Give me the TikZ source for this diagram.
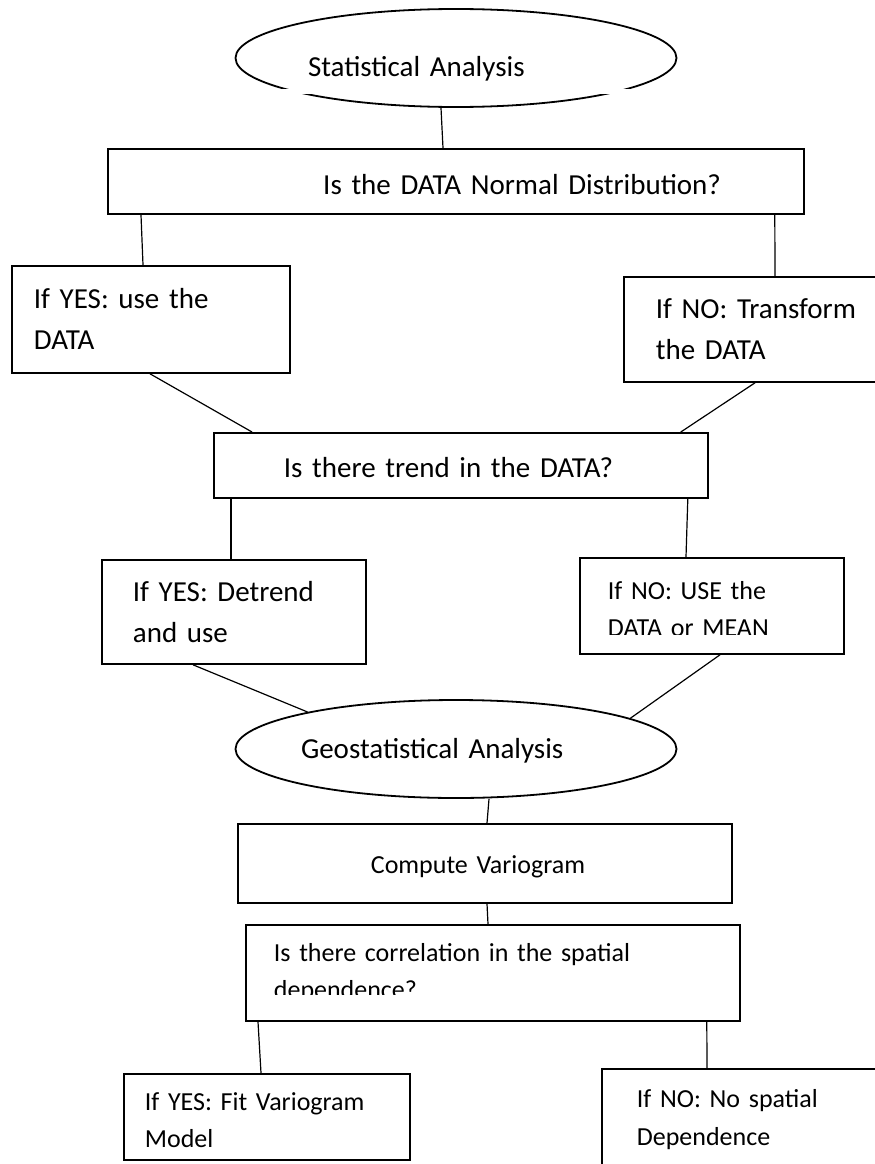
\documentclass[tikz,border=0pt]{standalone}
\usepackage{fontspec}
\setmainfont{Carlito}
\usetikzlibrary{shapes.geometric}

\begin{document}
\begin{tikzpicture}[x=1pt, y=-1pt, line join=miter,
    caja/.style={draw, rectangle, line width=1.8pt, anchor=north west, align=left},
    ovalo/.style={draw, ellipse, line width=1.8pt, minimum width=441pt, minimum height=98pt,
      inner sep=0pt, align=left},
    enlace/.style={line width=1.2pt},
    grande/.style={font=\fontsize{29pt}{41pt}\selectfont},
    chica/.style={font=\fontsize{26pt}{37.5pt}\selectfont}]
  \useasboundingbox (0,0) rectangle (875,1164);
  % el comienzo
  \node[ovalo, grande, text width=296pt, text height=40pt, text depth=4pt] (stat) at (456,58) {Statistical Analysis};
  \fill[white] (280,89) rectangle (640,93.5);
  \node[caja, grande, minimum height=65pt, align=right, inner xsep=83pt, text width=530pt, text height=27pt] (normal) at (107,148) {Is the DATA Normal Distribution?};
  % primera rama
  \node[caja, grande, minimum height=107pt, inner xsep=22pt, text width=234pt] (yes1) at (11,265) {If YES: use the\\DATA};
  \node[caja, grande, minimum height=105pt, inner xsep=32pt, text width=216pt] (no1) at (623,276) {If NO: Transform\\the DATA};
  \node[caja, grande, minimum height=65pt, inner xsep=70pt, text width=354pt, text height=24pt] (trend) at (213,432) {Is there trend in the DATA?};
  % segunda rama
  \node[caja, grande, minimum height=104pt, inner xsep=31pt, text width=202pt] (detrend) at (101,559) {If YES: Detrend\\and use};
  \node[caja, chica, minimum height=96pt, inner xsep=28pt, text width=208pt, text height=24pt] (nouse) at (579,557) {If NO: USE the\\DATA or MEAN};
  \fill[white] (600,634.5) rectangle (800,648);
  \node[ovalo, grande, text width=310pt, text height=22pt, text depth=4pt] (geo) at (456,749) {Geostatistical Analysis};
  % el variograma
  \node[caja, chica, minimum height=79pt, inner xsep=133pt, text width=228pt, text height=24pt] (compute) at (237,823) {Compute Variogram};
  \node[caja, chica, minimum height=96pt, inner xsep=28pt, text width=438pt] (corr) at (245,924) {Is there correlation in the spatial\\dependence?};
  \fill[white] (260,995) rectangle (700,1015);
  \node[caja, chica, minimum height=86pt, inner xsep=21pt, text width=244pt, text height=24pt] (fit) at (123,1073) {If YES: Fit Variogram\\Model};
  \node[caja, chica, minimum height=101.5pt, inner xsep=35pt, text width=230pt] (no2) at (601,1068) {If NO: No spatial\\Dependence};
  % las lineas
  \draw[enlace] ([xshift=-15pt]stat.south) -- ([xshift=336pt]normal.north west);
  \draw[enlace] ([xshift=34pt]normal.south west) -- ([xshift=132pt]yes1.north west);
  \draw[enlace] ([xshift=-30pt]normal.south east) -- ([xshift=152pt]no1.north west);
  \draw[enlace] ([xshift=139pt]yes1.south west) -- ([xshift=39pt]trend.north west);
  \draw[enlace] ([xshift=132pt]no1.south west) -- ([xshift=-28pt]trend.north east);
  \draw[enlace] ([xshift=18pt]trend.south west) -- ([xshift=130pt]detrend.north west);
  \draw[enlace] ([xshift=-21pt]trend.south east) -- ([xshift=107pt]nouse.north west);
  \draw[enlace] ([xshift=92pt]detrend.south west) -- (geo.166);
  \draw[enlace] ([xshift=141pt]nouse.south west) -- (geo.10);
  \draw[enlace] ([xshift=33pt]geo.south) -- ([xshift=250pt]compute.north west);
  \draw[enlace] ([xshift=250pt]compute.south west) -- ([xshift=243pt]corr.north west);
  \draw[enlace] ([xshift=13pt]corr.south west) -- ([xshift=138pt]fit.north west);
  \draw[enlace] ([xshift=-34pt]corr.south east) -- ([xshift=106pt]no2.north west);
\end{tikzpicture}
\end{document}
